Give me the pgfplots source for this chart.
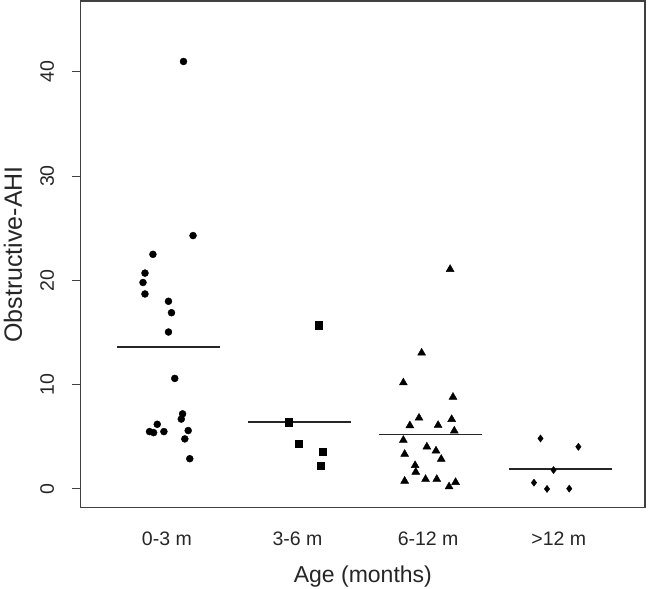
\documentclass[border=0pt]{standalone}
\usepackage{fontspec}
\setmainfont{Liberation Sans}
\usepackage{pgfplots}
\pgfplotsset{compat=1.18}
\begin{document}
\begin{tikzpicture}[x=1pt,y=1pt]
\begin{axis}[
  at={(80.7pt,81.3pt)}, anchor=south west,
  scale only axis, width=564.3pt, height=506.7pt,
  xmin=0.34, xmax=4.66, ymin=-1.8, ymax=46.8,
  axis line style={draw=black!75, line width=1.2pt},
  xtick={1,2,3,4}, xticklabels={0-3 m,3-6 m,6-12 m,>12 m},
  ytick={0,10,20,30,40},
  ytick pos=left,
  tick align=outside, major tick length=8.5pt,
  x tick style={draw=none},
  y tick style={draw=black!75, line width=1pt},
  tick label style={font=\fontsize{19.5}{22}\selectfont, text=black!85},
  /pgf/number format/assume math mode=true,
  xticklabel style={anchor=base, yshift=-29pt},
  yticklabel style={xshift=-25pt, rotate=90, anchor=center},
  xlabel={Age (months)},
  ylabel={Obstructive-AHI},
  label style={text=black!85},
  xlabel style={font=\fontsize{23}{27}\selectfont, at={(axis description cs:0.5,-0.136)}, anchor=center},
  ylabel style={font=\fontsize{25}{29}\selectfont, at={(axis description cs:-0.12,0.5)}, anchor=center},
]
% 0-3 m
\addplot[only marks, mark=*, mark size=3.5pt, black] coordinates {
(1.127,41.0) (1.20,24.3) (0.893,22.5) (0.832,20.7) (0.817,19.8) (0.832,18.7)
(1.012,18.0) (1.035,16.9) (1.012,15.05) (1.06,10.6) (1.12,7.2) (1.11,6.7)
(0.926,6.2) (0.867,5.5) (0.898,5.4) (0.977,5.5) (1.163,5.6) (1.137,4.8) (1.175,2.9)
};
% 3-6 m
\addplot[only marks, mark=square*, mark size=3.6pt, black] coordinates {
(2.16,15.7) (1.93,6.4) (2.008,4.36) (2.19,3.56) (2.18,2.2)
};
% 6-12 m
\addplot[only marks, mark=triangle*, mark size=4.6pt, black] coordinates {
(3.168,21.07) (2.95,13.05) (2.81,10.19) (3.19,8.81) (2.93,6.81) (3.18,6.68)
(2.86,6.08) (3.076,6.11) (3.2,5.57) (2.81,4.68) (2.99,4.04) (3.06,3.66)
(3.10,2.86) (2.82,3.34) (2.90,2.26) (2.905,1.62) (2.82,0.76) (2.98,0.93)
(3.066,0.93) (3.16,0.22) (3.21,0.64)
};
% >12 m
\addplot[only marks, mark=diamond*, mark size=3.6pt, black] coordinates {
(3.86,4.84) (4.15,4.04) (3.96,1.81) (3.81,0.6) (3.91,0.0) (4.08,0.03)
};
% means
\addplot[black!85, line width=1.8pt] coordinates {(0.62,13.6) (1.41,13.6)};
\addplot[black!85, line width=1.8pt] coordinates {(1.62,6.42) (2.41,6.42)};
\addplot[black!85, line width=1.8pt] coordinates {(2.62,5.22) (3.41,5.22)};
\addplot[black!85, line width=1.8pt] coordinates {(3.62,1.9) (4.41,1.9)};
\end{axis}
\pgfresetboundingbox
\path[use as bounding box] (0,0) rectangle (648,589);
\end{tikzpicture}
\end{document}
